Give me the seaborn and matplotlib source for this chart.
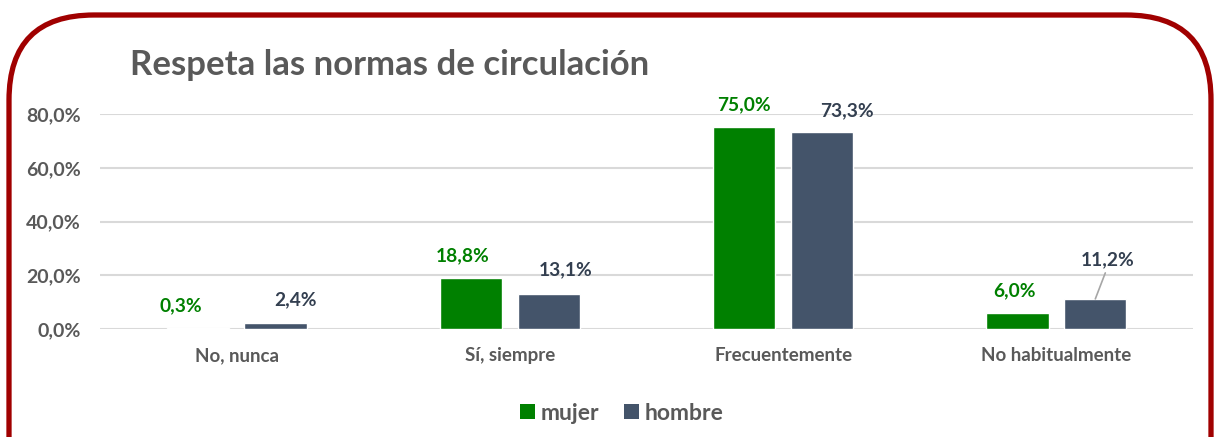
import matplotlib
matplotlib.use("Agg")
import matplotlib.pyplot as plt
from matplotlib.patches import FancyBboxPatch, Patch
import seaborn as sns
import pandas as pd

categories = ["No, nunca", "Sí, siempre", "Frecuentemente", "No habitualmente"]
mujer = [0.3, 18.8, 75.0, 6.0]
hombre = [2.4, 13.1, 73.3, 11.2]
series_names = ["mujer", "hombre"]
yticks = [0, 20, 40, 60, 80]
title = "Respeta las normas de circulación"

GREEN = "#008000"
SLATE = "#44546A"
TXT = "#595959"

sns.set_theme(style="white")
plt.rcParams["font.family"] = ["Lato", "DejaVu Sans"]

df = pd.DataFrame({
    "cat": categories * 2,
    "val": mujer + hombre,
    "serie": [series_names[0]] * 4 + [series_names[1]] * 4,
})

fig = plt.figure(figsize=(12.14, 4.37), dpi=100)
ax = fig.add_axes([100 / 1214, 1 - 329 / 437, 1093 / 1214, 215 / 437])

sns.barplot(data=df, x="cat", y="val", hue="serie", order=categories,
            hue_order=series_names, palette=[GREEN, SLATE], width=0.57, gap=0.2,
            ax=ax, legend=False, saturation=1)

ax.set_xlim(-0.5, 3.5)
ax.set_ylim(0, 80)
ax.set_yticks(yticks)
ax.set_yticklabels([f"{v:.1f}".replace(".", ",") + "%" for v in yticks],
                   fontsize=14, fontweight="bold", color=TXT)
ax.set_xticks(range(len(categories)))
ax.set_xticklabels(categories, fontsize=13.5, fontweight="bold", color=TXT)
ax.tick_params(axis="x", length=0, pad=13)
ax.tick_params(axis="y", length=0, pad=14)
ax.set_xlabel("")
ax.set_ylabel("")
for s in ax.spines.values():
    s.set_visible(False)
ax.grid(axis="y", color="#D9D9D9", lw=1.5)
ax.set_axisbelow(True)

# data labels (pixel offsets from bar top center)
offs = {
    0: [(-17, 22), (-8, 23), (0, 23), (-3, 22)],
    1: [(20, 23), (17, 24), (25, 21), (12, 39)],
}
for si, cont in enumerate(ax.containers):
    color = GREEN if si == 0 else "#333F50"
    for ci, bar in enumerate(cont):
        v = bar.get_height()
        xc = bar.get_x() + bar.get_width() / 2
        dx, dy = offs[si][ci]
        ax.annotate(f"{v:.1f}".replace(".", ",") + "%", xy=(xc, v),
                    xytext=(dx, dy), textcoords="offset pixels",
                    ha="center", va="center", fontsize=13.8, fontweight="bold",
                    color=color, annotation_clip=False)
        if dy > 30:
            ax.annotate("", xy=(xc, v), xytext=(dx - 2, dy - 13),
                        textcoords="offset pixels",
                        arrowprops=dict(arrowstyle="-", color="#A6A6A6", lw=1.2,
                                        shrinkA=0, shrinkB=0),
                        annotation_clip=False)

fig.text(130 / 1214, 1 - 65 / 437, title, fontsize=25, fontweight="bold",
         color=TXT, ha="left", va="center")

handles = [Patch(facecolor=GREEN, edgecolor="none"), Patch(facecolor=SLATE, edgecolor="none")]
fig.legend(handles, series_names, loc="center", bbox_to_anchor=(622 / 1214, 1 - 413 / 437),
           ncol=2, frameon=False, handlelength=0.65, handleheight=0.65,
           handletextpad=0.25, columnspacing=1.1,
           prop={"size": 16.5, "weight": "bold"}, labelcolor=TXT)

border = FancyBboxPatch((9 / 1214, -0.2), (1202 / 1214), 1 - 15 / 437 + 0.2,
                        boxstyle="round,pad=0,rounding_size=0.07",
                        transform=fig.transFigure, facecolor="none",
                        edgecolor="#A00000", lw=3.8, mutation_aspect=1214 / 437,
                        clip_on=False)
fig.patches.append(border)

fig.savefig("out.png", dpi=100)
